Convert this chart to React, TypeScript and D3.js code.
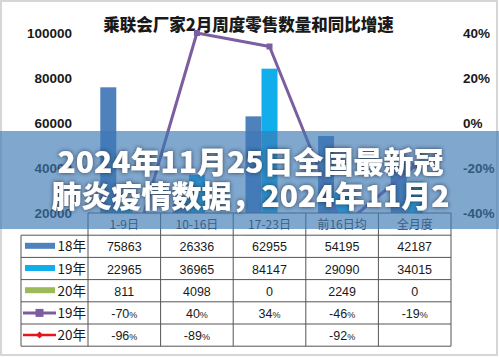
import React, { useEffect } from "react";
import * as d3 from "d3";

const categories = ["1-9日", "10-16日", "17-23日", "前16日均", "全月度"];
const barSeries = ["18年", "19年", "20年"];
const sales18 = [75863, 26336, 62955, 54195, 42187];
const sales19 = [22965, 36965, 84147, 29090, 34015];
const sales20 = [811, 4098, 0, 2249, 0];
const growth19: (number | null)[] = [-70, 40, 34, -46, -19];
const growth20: (number | null)[] = [-96, -89, null, -92, null];
const leftTicks = [20000, 40000, 60000, 80000, 100000];
const rightTicks = [-40, -20, 0, 20, 40];
const title = "乘联会厂家2月周度零售数量和同比增速";
const bannerLines = ["2024年11月25日全国最新冠", "肺炎疫情数据，2024年11月2"];

const barColors = ["#4F81BD", "#12AEEB", "#9BBB59"];
const purple = "#7B5EA0";
const red = "#E8141B";

export default function App() {
  useEffect(() => {
    document.body.style.margin = "0";
  }, []);

  const W = 499;
  const H = 358;
  const x = d3.scaleBand<string>().domain(categories).range([88, 451]).paddingInner(0);
  const bw = x.bandwidth();
  const inner = d3.scaleBand<string>().domain(barSeries).range([bw / 2 - 24, bw / 2 + 24]);
  const yL = d3.scaleLinear().domain([0, 100000]).range([258, 33]);
  const yR = d3.scaleLinear().domain([-60, 40]).range([258, 33]);
  const allBars = [sales18, sales19, sales20];

  const line = d3
    .line<number | null>()
    .defined((d) => d !== null)
    .x((_, i) => (x(categories[i]) as number) + bw / 2)
    .y((d) => yR(d as number));

  const tableTop = 213;
  const rowH = 22.2;
  const tableLeft = 21;
  const tableRight = 451;
  const dataLeft = 88;
  const rows = [
    { label: "18年", vals: sales18.map(String), kind: "bar", color: barColors[0] },
    { label: "19年", vals: sales19.map(String), kind: "bar", color: barColors[1] },
    { label: "20年", vals: sales20.map(String), kind: "bar", color: barColors[2] },
    { label: "19年", vals: growth19.map((v) => (v === null ? "" : String(v))), kind: "line", color: purple, pct: true },
    { label: "20年", vals: growth20.map((v) => (v === null ? "" : String(v))), kind: "line2", color: red, pct: true },
  ];
  const tableBottom = tableTop + rowH * 6;
  const font = "'Liberation Sans', 'Noto Sans CJK SC', sans-serif";
  const cjk = "'Noto Sans CJK SC', sans-serif";

  return (
    <svg width={W} height={H} style={{ display: "block" }} xmlns="http://www.w3.org/2000/svg">
      <defs>
        <filter id="ts" x="-10%" y="-30%" width="120%" height="160%">
          <feDropShadow dx="0" dy="0" stdDeviation="2.2" floodColor="#1a2a3a" floodOpacity="0.85" />
        </filter>
      </defs>
      <rect x={0} y={0} width={W} height={H} fill="#fff" />
      <rect x={1} y={1} width={496} height={354} fill="none" stroke="#d6d6d6" strokeWidth={2} />

      <text x={248.5} y={31} textAnchor="middle" fontFamily={cjk} fontWeight={900} fontSize={16.5} fill="#1a1a1a">
        {title}
      </text>

      {leftTicks.map((t) => (
        <text key={"l" + t} x={72} y={yL(t) + 4.5} textAnchor="end" fontFamily={font} fontWeight={700} fontSize={13.5} fill="#1a1a1a">
          {t}
        </text>
      ))}
      {rightTicks.map((t) => (
        <text key={"r" + t} x={463} y={yR(t) + 4.5} textAnchor="start" fontFamily={font} fontWeight={700} fontSize={13.5} fill="#1a1a1a">
          {t}%
        </text>
      ))}

      {allBars.map((vals, si) =>
        vals.map((v, ci) => (
          <rect
            key={si + "-" + ci}
            x={(x(categories[ci]) as number) + (inner(barSeries[si]) as number)}
            y={yL(v)}
            width={inner.bandwidth()}
            height={yL(0) - yL(v)}
            fill={barColors[si]}
          />
        ))
      )}

      <path d={line(growth20) || ""} fill="none" stroke={red} strokeWidth={2.5} />
      <path d={line(growth19) || ""} fill="none" stroke={purple} strokeWidth={3} strokeLinejoin="round" />
      {growth19.map((v, i) =>
        v === null ? null : (
          <rect
            key={"m" + i}
            x={(x(categories[i]) as number) + bw / 2 - 3}
            y={yR(v) - 3}
            width={6}
            height={6}
            fill={purple}
          />
        )
      )}

      {/* table */}
      <rect x={dataLeft} y={tableTop} width={tableRight - dataLeft} height={rowH} fill="#fff" />
      <rect x={tableLeft} y={tableTop + rowH} width={tableRight - tableLeft} height={rowH * 5} fill="#fff" />
      <rect x={3} y={tableBottom} width={W - 6} height={H - tableBottom - 4} fill="#fff" />
      {categories.map((c) => (
        <text key={"h" + c} x={(x(c) as number) + bw / 2} y={tableTop + 15.5} textAnchor="middle" fontFamily={cjk} fontSize={12} fill="#333">
          {c}
        </text>
      ))}
      {rows.map((r, ri) => {
        const ty = tableTop + rowH * (ri + 1);
        const cy = ty + rowH / 2;
        return (
          <g key={"row" + ri}>
            {r.kind === "bar" && <rect x={25} y={cy - 3.5} width={30} height={6} fill={r.color} />}
            {r.kind === "line" && (
              <g>
                <line x1={23} x2={56} y1={cy} y2={cy} stroke={r.color} strokeWidth={3} />
                <rect x={35.5} y={cy - 4} width={8} height={8} fill={r.color} />
              </g>
            )}
            {r.kind === "line2" && (
              <g>
                <line x1={23} x2={56} y1={cy} y2={cy} stroke={r.color} strokeWidth={2.5} />
                <path d={`M${39.5},${cy - 3.5} L${43},${cy} L${39.5},${cy + 3.5} L${36},${cy} Z`} fill={r.color} />
              </g>
            )}
            <text x={57.5} y={cy + 5} fontFamily={cjk} fontSize={13.5} fill="#1a1a1a">
              {r.label}
            </text>
            {r.vals.map((v, ci) =>
              v === "" ? null : (
                <text key={ci} x={(x(categories[ci]) as number) + bw / 2} y={cy + 5} textAnchor="middle" fontFamily={font} fontSize={12.5} fill="#1a1a1a">
                  {v}
                  {r.pct ? <tspan fontSize={9}>%</tspan> : null}
                </text>
              )
            )}
          </g>
        );
      })}
      {d3.range(7).map((i) => {
        const yy = tableTop + rowH * i;
        const x0 = i === 0 ? dataLeft : tableLeft;
        return <line key={"hl" + i} x1={x0} x2={tableRight} y1={yy} y2={yy} stroke="#555" strokeWidth={1} />;
      })}
      <line x1={tableLeft} x2={tableLeft} y1={tableTop + rowH} y2={tableBottom} stroke="#555" strokeWidth={1} />
      {categories.map((c) => (
        <line key={"vl" + c} x1={x(c) as number} x2={x(c) as number} y1={tableTop} y2={tableBottom} stroke="#555" strokeWidth={1} />
      ))}
      <line x1={tableRight} x2={tableRight} y1={tableTop} y2={tableBottom} stroke="#555" strokeWidth={1} />

      {/* banner overlay */}
      <rect x={0} y={131} width={W} height={98} fill="rgb(60,120,180)" fillOpacity={0.65} />
      <g filter="url(#ts)">
        {bannerLines.map((t, i) => (
          <text key={"b" + i} x={250.5} y={173 + i * 34} textAnchor="middle" fontFamily={cjk} fontWeight={900} fontSize={30} fill="#fff">
            {t}
          </text>
        ))}
      </g>
    </svg>
  );
}
